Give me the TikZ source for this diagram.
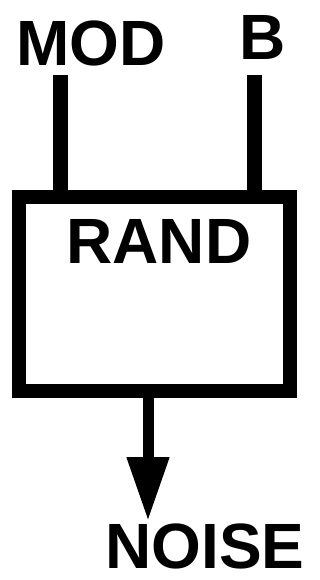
\documentclass[tikz,border=0pt]{standalone}
\usepackage{fontspec}
\setmainfont{Liberation Sans}
\usetikzlibrary{arrows.meta}
\tikzset{
  lbl/.style={font=\bfseries\fontsize{64}{64}\selectfont, inner sep=0pt,
    text depth=0pt, anchor=base},
  blk/.style={draw, line width=14pt, rectangle, inner sep=0pt,
    minimum width=270.5pt, minimum height=194pt},
  wire/.style={line width=15pt},
}
\begin{document}
\begin{tikzpicture}[x=1pt, y=-1pt]
  \useasboundingbox (0,0) rectangle (320,580);
  \node[lbl] (mod) at (91,66) {MOD};
  \node[lbl] (b) at (263,60) {B};
  \node[blk] (rand) at (154.25,294) {};
  \node[lbl] (randtxt) at (159,263) {RAND};
  \node[lbl] (noise) at (205,568) {NOISE};

  \coordinate (modin) at (60,75);
  \coordinate (bin) at (254,75);
  \coordinate (out) at (148,521);

  \draw[wire] (modin) -- (modin |- rand.north);
  \draw[wire] (bin) -- (bin |- rand.north);
  \draw[line width=11pt, -{Triangle[width=40pt, length=64pt]}] (out |- rand.south) -- (out);
\end{tikzpicture}
\end{document}
